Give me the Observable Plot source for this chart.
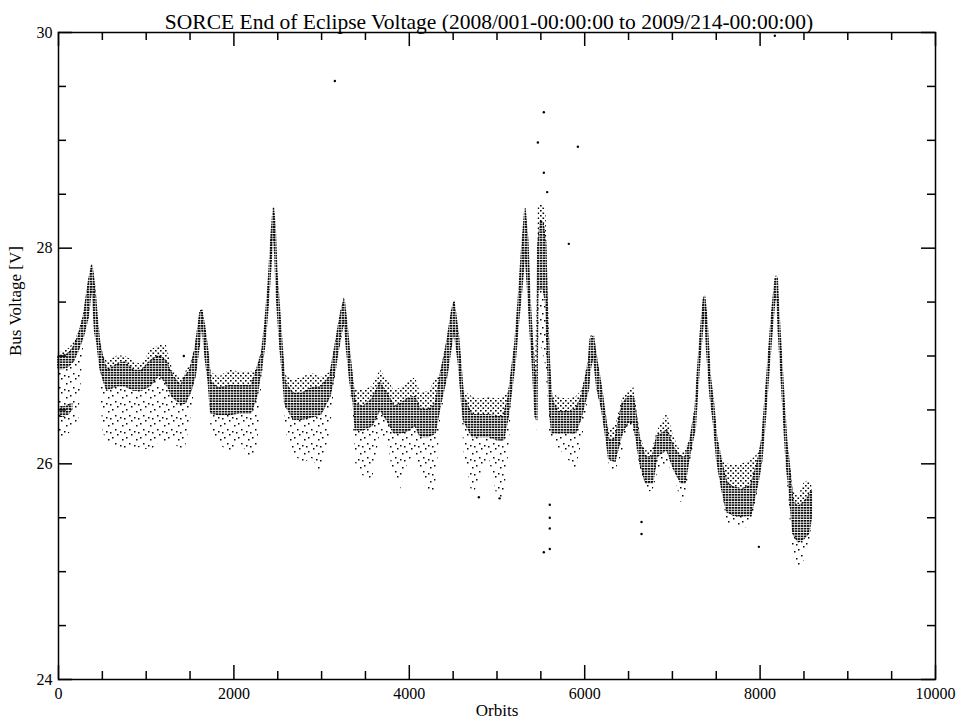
<!DOCTYPE html>
<html><head><meta charset="utf-8">
<script src="https://cdn.jsdelivr.net/npm/d3@7"></script>
<script src="https://cdn.jsdelivr.net/npm/@observablehq/plot@0.6"></script>
<style>body{margin:0;background:#fff;}</style>
</head><body><div id="chart"></div>
<script>
// Band envelopes (orbit, sparse low, dense low, dense high, sparse high)
const orbits   = [0,60,120,175,230,290,345,385,420,445,475,505,555,670,760,860,950,1050,1150,1230,1300,1400,1448,1505,1563,1619,1640,1677,1715,1740,1830,1950,2070,2200,2266,2323,2360,2398,2429,2455,2474,2493,2531,2569,2588,2680,2780,2890,2990,3100,3159,3215,3262,3292,3330,3368,3390,3480,3580,3670,3750,3830,3900,3980,4070,4130,4230,4300,4357,4433,4490,4516,4566,4604,4622,4720,4810,4910,5000,5080,5135,5173,5211,5249,5287,5325,5356,5382,5409,5440,5459,5470,5500,5530,5560,5580,5605,5630,5700,5800,5900,5970,6048,6067,6105,6143,6200,6257,6280,6350,6430,6500,6561,6637,6700,6780,6827,6940,7018,7100,7150,7207,7265,7291,7322,7359,7372,7397,7436,7474,7512,7569,7626,7700,7800,7900,7987,8025,8063,8101,8139,8177,8200,8215,8253,8283,8309,8329,8380,8440,8500,8560,8590];
const fringeLo = [26.25,26.25,26.28,26.32,26.40,27.14,27.33,27.64,27.18,27.08,26.85,26.30,26.20,26.15,26.13,26.15,26.15,26.12,26.20,26.20,26.20,26.13,26.15,26.40,26.75,27.10,27.28,26.95,26.70,26.30,26.20,26.08,26.20,26.04,26.10,26.80,27.08,27.45,27.82,28.16,27.88,27.48,27.04,26.70,26.30,26.10,26.00,26.05,25.92,26.30,26.82,27.10,27.30,27.02,26.70,26.30,26.00,25.88,25.85,26.30,26.20,25.85,25.76,26.00,26.10,25.90,25.70,25.75,26.40,26.78,27.08,27.22,26.90,26.50,26.10,25.70,25.85,26.05,25.70,25.68,26.10,26.65,26.90,27.27,27.58,27.95,27.58,27.20,26.90,26.40,26.30,27.20,27.10,27.00,26.90,26.60,26.20,26.20,26.15,26.05,25.95,26.20,26.65,26.84,26.97,26.68,26.47,26.16,25.95,25.93,26.10,26.30,26.30,25.95,25.73,25.75,25.90,26.00,25.90,25.64,25.70,26.00,26.28,26.62,26.97,27.30,27.40,27.02,26.58,26.35,25.98,25.72,25.45,25.42,25.40,25.42,25.80,26.00,26.37,26.78,27.17,27.52,27.45,27.18,26.68,26.25,25.90,25.60,25.15,25.02,25.10,25.20,25.45];
const coreLo   = [26.88,26.88,26.90,26.95,27.05,27.18,27.36,27.67,27.21,27.12,26.90,26.80,26.68,26.72,26.72,26.68,26.68,26.72,26.82,26.75,26.62,26.55,26.56,26.65,26.81,27.15,27.32,26.99,26.75,26.47,26.45,26.45,26.47,26.47,26.62,26.90,27.12,27.49,27.86,28.20,27.92,27.52,27.08,26.75,26.55,26.41,26.41,26.43,26.45,26.62,26.87,27.15,27.33,27.05,26.75,26.56,26.31,26.31,26.35,26.50,26.40,26.28,26.28,26.30,26.35,26.25,26.25,26.28,26.53,26.81,27.12,27.24,26.93,26.56,26.40,26.25,26.25,26.25,26.22,26.22,26.44,26.69,26.93,27.30,27.61,27.98,27.61,27.24,26.93,26.44,26.40,27.60,27.62,27.62,27.50,27.00,26.50,26.28,26.28,26.28,26.28,26.44,26.69,26.87,27.00,26.71,26.50,26.19,26.04,26.02,26.28,26.38,26.38,26.00,25.82,25.82,26.06,26.13,25.95,25.82,25.82,26.10,26.32,26.65,27.00,27.33,27.45,27.05,26.62,26.38,26.03,25.76,25.55,25.52,25.51,25.52,25.85,26.03,26.40,26.81,27.20,27.55,27.50,27.21,26.71,26.28,25.95,25.82,25.35,25.27,25.30,25.35,25.50];
const coreHi   = [27.00,27.00,27.02,27.08,27.18,27.36,27.67,27.84,27.62,27.36,27.12,27.00,26.86,26.92,26.94,26.86,26.86,26.95,27.00,26.95,26.82,26.72,26.81,26.87,27.06,27.40,27.42,27.24,26.99,26.75,26.70,26.72,26.72,26.72,26.87,27.03,27.30,27.67,28.10,28.37,28.23,27.80,27.36,26.93,26.75,26.65,26.65,26.70,26.71,26.81,27.09,27.36,27.52,27.30,26.99,26.71,26.55,26.53,26.60,26.75,26.65,26.53,26.55,26.60,26.62,26.50,26.50,26.55,26.81,27.12,27.42,27.50,27.18,26.81,26.62,26.45,26.45,26.45,26.44,26.44,26.62,26.87,27.12,27.52,27.98,28.36,28.07,27.52,27.15,26.81,26.70,28.00,28.25,28.23,28.05,27.40,26.90,26.60,26.48,26.48,26.50,26.62,26.93,27.15,27.18,26.96,26.68,26.34,26.22,26.22,26.55,26.62,26.62,26.19,26.06,26.06,26.25,26.31,26.15,26.06,26.06,26.22,26.50,26.84,27.18,27.52,27.55,27.36,26.81,26.56,26.22,26.00,25.82,25.78,25.76,25.80,26.05,26.22,26.59,27.00,27.40,27.71,27.72,27.46,26.93,26.53,26.20,26.06,25.65,25.60,25.64,25.70,25.75];
const fringeHi = [27.03,27.04,27.07,27.12,27.22,27.40,27.70,27.86,27.70,27.40,27.15,27.02,26.95,27.00,27.00,26.95,26.92,27.05,27.10,27.10,26.88,26.78,26.85,26.92,27.10,27.43,27.44,27.28,27.02,26.85,26.80,26.87,26.85,26.85,26.90,27.06,27.33,27.70,28.13,28.39,28.27,27.85,27.40,26.97,26.82,26.78,26.80,26.84,26.80,26.85,27.12,27.40,27.55,27.34,27.03,26.75,26.68,26.68,26.72,26.87,26.78,26.68,26.70,26.75,26.80,26.65,26.68,26.78,26.85,27.15,27.45,27.52,27.22,26.85,26.68,26.62,26.60,26.62,26.60,26.62,26.68,26.90,27.15,27.55,28.02,28.39,28.12,27.56,27.20,26.90,27.60,28.40,28.40,28.40,28.30,27.70,27.00,26.65,26.62,26.60,26.62,26.68,26.98,27.18,27.20,27.00,26.72,26.38,26.30,26.35,26.60,26.68,26.71,26.25,26.12,26.15,26.30,26.47,26.25,26.10,26.12,26.25,26.55,26.88,27.22,27.55,27.57,27.40,26.85,26.60,26.26,26.05,26.00,25.98,26.00,26.03,26.10,26.25,26.62,27.03,27.43,27.74,27.74,27.50,26.97,26.57,26.25,26.10,25.75,25.70,25.82,25.85,25.80];

// second dense cluster at the start of the record
const clumpOrbits = [0, 60, 120, 165];
const clumpLo = [26.43, 26.43, 26.45, 26.50];
const clumpHi = [26.53, 26.53, 26.55, 26.56];

// isolated points
const outlierOrbits = [3151, 8168, 5534, 5466, 5922, 5534, 5572, 5819, 5602, 5602, 5602, 5602, 5534, 5030, 4793, 6648, 6648, 7986, 1429];
const outlierVolts  = [29.55, 29.97, 29.26, 28.98, 28.94, 28.70, 28.52, 28.04, 25.62, 25.50, 25.40, 25.21, 25.18, 25.68, 25.69, 25.46, 25.35, 25.23, 27.00];

const xMajorTicks = [0, 2000, 4000, 6000, 8000, 10000];
const xMinorTicks = [500, 1000, 1500, 2500, 3000, 3500, 4500, 5000, 5500, 6500, 7000, 7500, 8500, 9000, 9500];
const yMajorTicks = [24, 26, 28, 30];
const yMinorTicks = [24.5, 25, 25.5, 26.5, 27, 27.5, 28.5, 29, 29.5];

const titleText = "SORCE End of Eclipse Voltage (2008/001-00:00:00 to 2009/214-00:00:00)";

const band = orbits.map((o, i) => ({orbit: o, fLo: fringeLo[i], cLo: coreLo[i], cHi: coreHi[i], fHi: fringeHi[i]}));
const clump = clumpOrbits.map((o, i) => ({orbit: o, lo: clumpLo[i], hi: clumpHi[i]}));
const outliers = outlierOrbits.map((o, i) => ({orbit: o, v: outlierVolts[i]}));

const W = 958, H = 723, mL = 58, mR = 23, mT = 32, mB = 44;
const iW = W - mL - mR, iH = H - mT - mB;
const serif = "'Liberation Serif', 'Times New Roman', serif";

const chart = Plot.plot({
  width: W, height: H,
  marginLeft: mL, marginRight: mR, marginTop: mT, marginBottom: mB,
  style: {fontFamily: serif, fontSize: "16px", background: "#fff", color: "#000"},
  x: {domain: [0, 10000]},
  y: {domain: [24, 30]},
  marks: [
    Plot.areaY(band, {x: "orbit", y1: "fLo", y2: "cLo", fill: "url(#sparseDots)", curve: "linear"}),
    Plot.areaY(band, {x: "orbit", y1: "cHi", y2: "fHi", fill: "url(#midDots)", curve: "linear"}),
    Plot.areaY(band, {x: "orbit", y1: "cLo", y2: "cHi", fill: "url(#coreDots)", stroke: "url(#coreDots)", strokeWidth: 1.6, strokeLinejoin: "round", curve: "linear"}),
    Plot.areaY(clump, {x: "orbit", y1: "lo", y2: "hi", fill: "url(#coreDots)", curve: "linear"}),
    Plot.dot(outliers, {x: "orbit", y: "v", r: 1.2, fill: "#000", stroke: "none"}),
    Plot.tickX(xMajorTicks, {x: d => d, insetTop: iH - 14, stroke: "#000", strokeWidth: 1.5}),
    Plot.tickX(xMajorTicks, {x: d => d, insetBottom: iH - 14, stroke: "#000", strokeWidth: 1.5}),
    Plot.tickX(xMinorTicks, {x: d => d, insetTop: iH - 8, stroke: "#000", strokeWidth: 1.5}),
    Plot.tickX(xMinorTicks, {x: d => d, insetBottom: iH - 8, stroke: "#000", strokeWidth: 1.5}),
    Plot.tickY(yMajorTicks, {y: d => d, insetRight: iW - 14, stroke: "#000", strokeWidth: 1.5}),
    Plot.tickY(yMajorTicks, {y: d => d, insetLeft: iW - 14, stroke: "#000", strokeWidth: 1.5}),
    Plot.tickY(yMinorTicks, {y: d => d, insetRight: iW - 8, stroke: "#000", strokeWidth: 1.5}),
    Plot.tickY(yMinorTicks, {y: d => d, insetLeft: iW - 8, stroke: "#000", strokeWidth: 1.5}),
    Plot.frame({stroke: "#000", strokeWidth: 1.5}),
    Plot.axisX(xMajorTicks, {tickSize: 0, tickPadding: 8, tickFormat: d => String(d), label: null, fontSize: 16, fontFamily: serif}),
    Plot.axisY(yMajorTicks, {tickSize: 0, tickPadding: 6, tickFormat: d => String(d), label: null, fontSize: 16, fontFamily: serif}),
    Plot.text([titleText], {frameAnchor: "top", dx: -8, dy: -19, fontSize: 21.5, fill: "#000", fontFamily: serif}),
    Plot.text(["Orbits"], {frameAnchor: "bottom", dy: 36, fontSize: 17, fill: "#000", fontFamily: serif}),
    Plot.text(["Bus Voltage [V]"], {frameAnchor: "left", dx: -43, rotate: -90, fontSize: 17, fill: "#000", fontFamily: serif})
  ]
});

d3.select(chart).insert("defs", ":first-child").html(
  '<pattern id="sparseDots" patternUnits="userSpaceOnUse" width="14" height="14">' +
  '<rect x="0" y="3" width="1.5" height="1.5" fill="#000"/>' +
  '<rect x="5" y="0" width="1.5" height="1.5" fill="#000"/>' +
  '<rect x="10" y="5" width="1.5" height="1.5" fill="#000"/>' +
  '<rect x="3" y="9" width="1.5" height="1.5" fill="#000"/>' +
  '<rect x="8" y="11" width="1.5" height="1.5" fill="#000"/>' +
  '<rect x="12" y="12" width="1.5" height="1.5" fill="#000"/></pattern>' +
  '<pattern id="midDots" patternUnits="userSpaceOnUse" width="5" height="5">' +
  '<rect x="0" y="0" width="1.6" height="1.5" fill="#000"/>' +
  '<rect x="2.5" y="2.5" width="1.6" height="1.5" fill="#000"/></pattern>' +
  '<pattern id="coreDots" patternUnits="userSpaceOnUse" width="3" height="2.6">' +
  '<rect x="0" y="0" width="2.4" height="1.6" fill="#000"/></pattern>'
);

document.getElementById("chart").appendChild(chart);
</script>
</body></html>
